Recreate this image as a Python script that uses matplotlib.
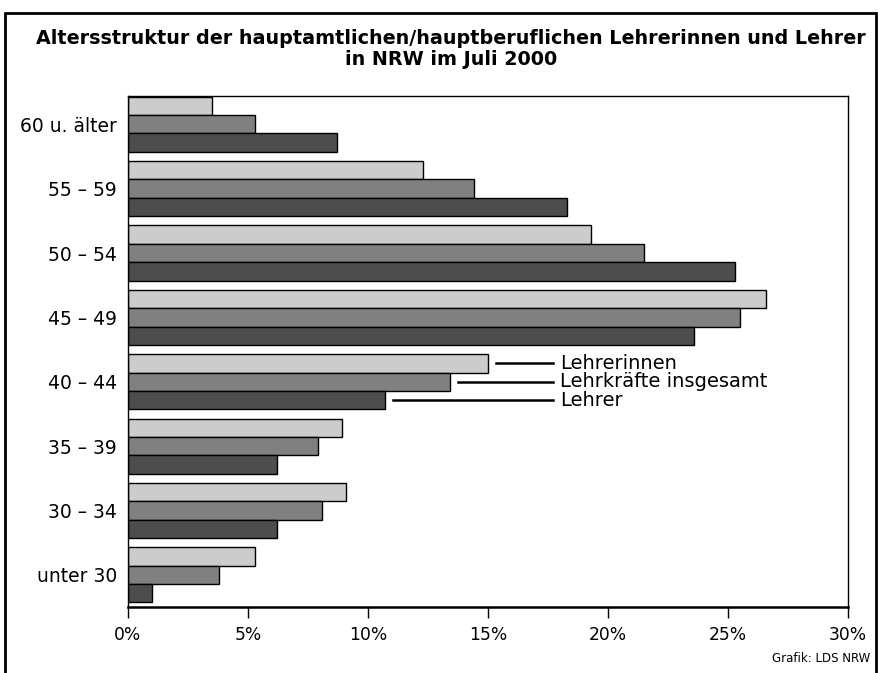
import matplotlib.pyplot as plt
import numpy as np
from matplotlib.patches import Rectangle

# Altersgruppen von oben nach unten
gruppen = ["60 u. älter", "55 – 59", "50 – 54", "45 – 49", "40 – 44", "35 – 39", "30 – 34", "unter 30"]
lehrerinnen = [3.5, 12.3, 19.3, 26.6, 15.0, 8.9, 9.1, 5.3]
insgesamt = [5.3, 14.4, 21.5, 25.5, 13.4, 7.9, 8.1, 3.8]
lehrer = [8.7, 18.3, 25.3, 23.6, 10.7, 6.2, 6.2, 1.0]
xticks = [0, 5, 10, 15, 20, 25, 30]

plt.rcParams['font.family'] = ['DejaVu Sans']

fig = plt.figure(figsize=(8.79, 6.73), dpi=100)
ax = fig.add_axes([0.1456, 0.0981, 0.8191, 0.7593])

y = np.arange(len(gruppen))
h = 0.285
ax.barh(y - h, lehrerinnen, height=h, color="#cccccc", edgecolor="black", linewidth=1)
ax.barh(y, insgesamt, height=h, color="#808080", edgecolor="black", linewidth=1)
ax.barh(y + h, lehrer, height=h, color="#4d4d4d", edgecolor="black", linewidth=1)

ax.set_xlim(0, 30)
ax.set_ylim(7.5, -0.44)
ax.set_xticks(xticks)
ax.set_xticklabels([f"{t}%" for t in xticks], fontsize=12.3)
ax.set_yticks(y)
ax.set_yticklabels(gruppen, fontsize=13.5)
ax.tick_params(axis="y", length=0, pad=8)
ax.tick_params(axis="x", direction="out", length=8, width=1, pad=6)
for s in ax.spines.values():
    s.set_linewidth(1)
ax.spines["bottom"].set_linewidth(1.8)

# Beschriftung der Reihen an Gruppe 40 - 44
i = 4
labels = ["Lehrerinnen", "Lehrkräfte insgesamt", "Lehrer"]
werte = [lehrerinnen[i], insgesamt[i], lehrer[i]]
offs = [-h, 0, h]
for lab, w, o in zip(labels, werte, offs):
    yy = i + o
    ax.plot([w + 0.35, 17.7], [yy, yy], color="black", linewidth=1.8)
    ax.text(18.0, yy, lab, fontsize=14, va="center", ha="left")

fig.text(0.513, 0.927, "Altersstruktur der hauptamtlichen/hauptberuflichen Lehrerinnen und Lehrer\nin NRW im Juli 2000",
         ha="center", va="center", fontsize=13.8, fontweight="bold", linespacing=1.1)
fig.text(0.99, 0.021, "Grafik: LDS NRW", ha="right", va="center", fontsize=8.5)

fig.add_artist(Rectangle((0.006, -0.05), 0.991, 1.031, transform=fig.transFigure,
                         fill=False, edgecolor="black", linewidth=2))

fig.savefig("out.png", dpi=100)
